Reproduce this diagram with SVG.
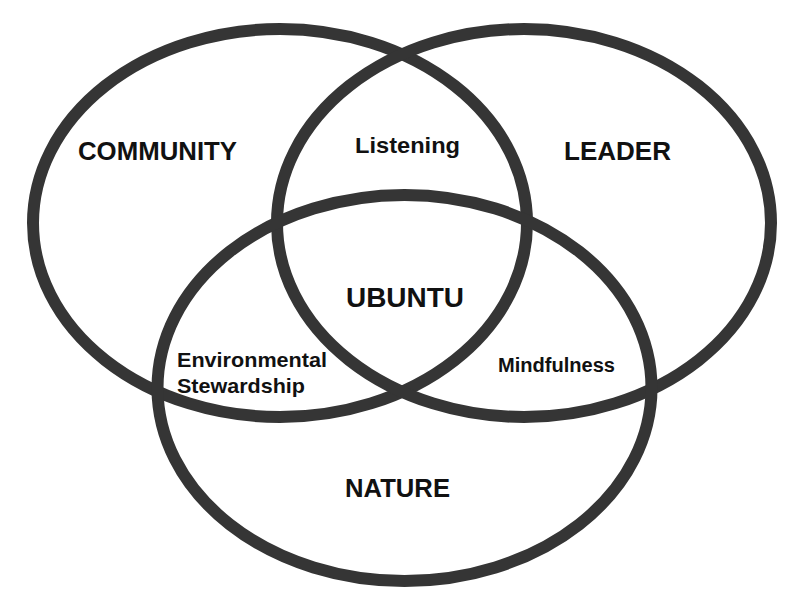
<svg xmlns="http://www.w3.org/2000/svg" width="789" height="595" viewBox="0 0 789 595">
<style>
.ring{fill:none;stroke:#353535;stroke-width:12}
.lbl{font-family:"Liberation Sans",Arial,sans-serif;font-weight:bold;fill:#111}
</style>
<rect width="789" height="595" fill="#ffffff"/>
<g id="community">
<ellipse class="ring" cx="280" cy="223" rx="247" ry="194"/>
<text class="lbl" x="78" y="160" font-size="25.5" textLength="159" lengthAdjust="spacingAndGlyphs">COMMUNITY</text>
</g>
<g id="leader">
<ellipse class="ring" cx="524" cy="223" rx="247" ry="194"/>
<text class="lbl" x="564" y="160" font-size="26" textLength="107" lengthAdjust="spacingAndGlyphs">LEADER</text>
</g>
<g id="nature">
<ellipse class="ring" cx="404.5" cy="388" rx="247" ry="193"/>
<text class="lbl" x="345" y="497" font-size="25.5" textLength="105" lengthAdjust="spacingAndGlyphs">NATURE</text>
</g>
<g id="listening">
<text class="lbl" x="355" y="153" font-size="22" textLength="105" lengthAdjust="spacingAndGlyphs">Listening</text>
</g>
<g id="ubuntu">
<text class="lbl" x="346" y="307" font-size="28" textLength="118" lengthAdjust="spacingAndGlyphs">UBUNTU</text>
</g>
<g id="environmental-stewardship">
<text class="lbl" x="177" y="367" font-size="20.5" textLength="150" lengthAdjust="spacingAndGlyphs">Environmental</text>
<text class="lbl" x="177" y="393" font-size="20.5" textLength="128" lengthAdjust="spacingAndGlyphs">Stewardship</text>
</g>
<g id="mindfulness">
<text class="lbl" x="498" y="372" font-size="20" textLength="117" lengthAdjust="spacingAndGlyphs">Mindfulness</text>
</g>
<g id="connectors"></g>
</svg>
